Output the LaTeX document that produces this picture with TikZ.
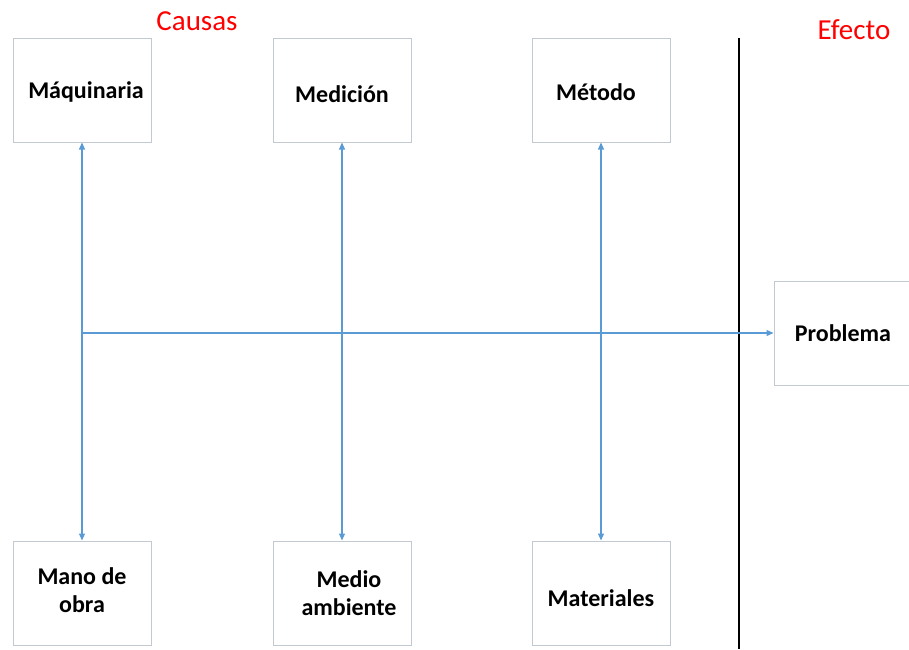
\documentclass[tikz,border=0pt]{standalone}
\usepackage{fontspec}
\setmainfont{Carlito}
\usetikzlibrary{arrows.meta}
\definecolor{lineblue}{HTML}{5B9BD5}
\definecolor{boxgray}{HTML}{C3C9D0}

\begin{document}
\begin{tikzpicture}[x=1pt,y=-1pt,
    >={Triangle[width=6pt,length=7pt]},
    causebox/.style={draw=boxgray,line width=1pt,fill=white,minimum width=138pt,minimum height=104pt,
      align=center,font=\fontsize{24}{28}\selectfont\bfseries},
    onebox/.style={causebox,text height=14pt,text depth=4pt},
    spine/.style={draw=lineblue,line width=1.2pt},
    title/.style={text=red,font=\fontsize{29}{34}\selectfont}]
  \useasboundingbox (0,0) rectangle (909,649);

  % causas arriba
  \node[onebox] (maquinaria) at (82,90) {\raisebox{-3pt}{\hspace{8pt}Máquinaria}};
  \node[onebox] (medicion) at (342,90) {\raisebox{-7pt}{Medición}};
  \node[onebox] (metodo) at (601,90) {\raisebox{-5pt}{Método}\hspace{10pt}};

  % causas abajo
  \node[causebox] (manoobra) at (82,593) {\raisebox{6pt}{Mano de}\\\raisebox{6pt}{obra}};
  \node[causebox] (medio) at (342,593) {\hspace{14pt}Medio\\\hspace{14pt}ambiente};
  \node[onebox] (materiales) at (601,593) {\raisebox{-8pt}{Materiales}};

  % efecto
  \node[onebox] (problema) at (843,333) {\raisebox{-3pt}{Problema}};

  \node[title] (causas) at (197,21) {Causas};
  \node[title] (efecto) at (854,30) {Efecto};

  % separador
  \coordinate (septop) at (739,38);
  \coordinate (sepbot) at (739,649);
  \draw[line width=1.5pt] (septop) -- (sepbot);

  % espina
  \coordinate (origen) at (82,333);
  \draw[spine,->] (origen) -- (problema.west);

  % ramas
  \draw[spine,<->] (maquinaria.south) -- (manoobra.north);
  \draw[spine,<->] (medicion.south) -- (medio.north);
  \draw[spine,<->] (metodo.south) -- (materiales.north);
\end{tikzpicture}
\end{document}
